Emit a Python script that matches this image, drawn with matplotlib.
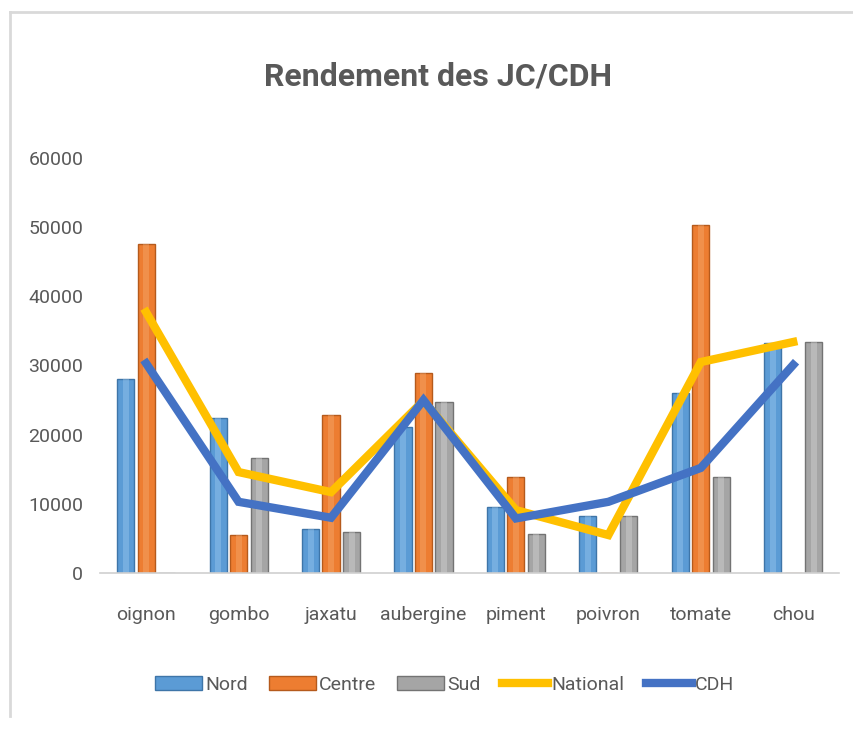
import numpy as np
import matplotlib
matplotlib.use("Agg")
import matplotlib.pyplot as plt
from matplotlib.lines import Line2D
from matplotlib.patches import Patch

categories = ["oignon", "gombo", "jaxatu", "aubergine", "piment", "poivron", "tomate", "chou"]
nord = [28000, 22400, 6400, 21100, 9500, 8200, 26000, 33200]
centre = [47500, 5500, 22800, 28900, 13900, 0, 50300, 0]
sud = [0, 16600, 5900, 24700, 5600, 8200, 13900, 33400]
national = [37700, 14600, 11700, 24900, 9100, 5500, 30500, 33400]
cdh = [30300, 10300, 8000, 25000, 7900, 10300, 15200, 30100]

plt.rcParams["font.family"] = ["Roboto", "DejaVu Sans"]
grey_txt = "#595959"

fig = plt.figure(figsize=(8.54, 7.31), dpi=100)
ax = fig.add_axes([0.117, 0.216, 0.866, 0.568])

x = np.arange(len(categories))
w = 0.185
step = 0.222
bars = [("Nord", nord, "#5B9BD5", "#3E75A8", "#A9D3F5"),
        ("Centre", centre, "#ED7D31", "#B55A1C", "#F8B57E"),
        ("Sud", sud, "#A5A5A5", "#737373", "#E0E0E0")]
for i, (name, vals, col, edge, light) in enumerate(bars):
    pos = x + (i - 1) * step
    ax.bar(pos, vals, width=w, color=col, edgecolor=edge, linewidth=1.0, zorder=2)
    # soft highlight down the middle of each bar
    ax.bar(pos, vals, width=w * 0.35, color=light, alpha=0.35, linewidth=0, zorder=2)

ax.plot(x, national, color="#FFC000", lw=6, solid_joinstyle="miter", zorder=3)
ax.plot(x, cdh, color="#4472C4", lw=6, solid_joinstyle="miter", zorder=4)

ax.set_xlim(-0.5, len(categories) - 0.5)
ax.set_ylim(0, 60000)
ax.set_yticks(np.arange(0, 60001, 10000))
ax.set_xticks(x)
ax.set_xticklabels(categories)
ax.tick_params(axis="both", length=0, labelsize=14, colors=grey_txt)
ax.tick_params(axis="x", pad=24)
ax.tick_params(axis="y", pad=12)
for s in ["top", "right", "left"]:
    ax.spines[s].set_visible(False)
ax.spines["bottom"].set_color("#D0D0D0")
ax.spines["bottom"].set_linewidth(1.2)

fig.text(0.513, 0.896, "Rendement des JC/CDH", ha="center", va="center",
         fontsize=23, fontweight="bold", color=grey_txt)

handles = [Patch(facecolor="#5B9BD5", edgecolor="#3E75A8", label="Nord"),
           Patch(facecolor="#ED7D31", edgecolor="#B55A1C", label="Centre"),
           Patch(facecolor="#A5A5A5", edgecolor="#737373", label="Sud"),
           Line2D([], [], color="#FFC000", lw=6, label="National"),
           Line2D([], [], color="#4472C4", lw=6, label="CDH")]
fig.legend(handles=handles, loc="center", bbox_to_anchor=(0.521, 0.063), ncol=5,
           frameon=False, fontsize=14, labelcolor=grey_txt, handlelength=2.4,
           handleheight=0.7, handletextpad=0.15, columnspacing=1.1)

# chart frame
fig.add_artist(Line2D([0.012, 1.0], [0.984, 0.984], color="#D9D9D9", lw=2))
fig.add_artist(Line2D([0.012, 0.012], [0.02, 0.984], color="#D9D9D9", lw=2))

fig.savefig("out.png", dpi=100)
